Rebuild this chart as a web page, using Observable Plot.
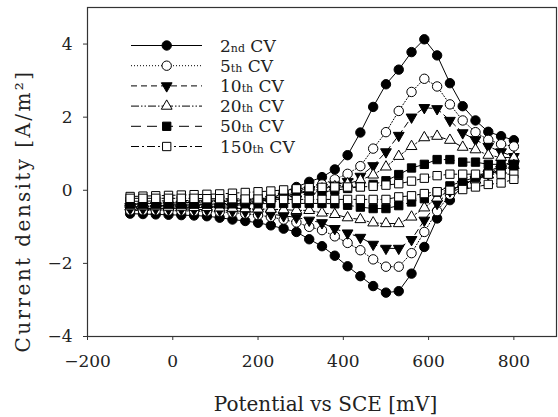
<!DOCTYPE html>
<html><head><meta charset="utf-8">
<script src="https://cdn.jsdelivr.net/npm/d3@7"></script>
<script src="https://cdn.jsdelivr.net/npm/@observablehq/plot@0.6"></script>
<style>
body{margin:0;background:#fff;}
#chart svg{font-family:"DejaVu Serif",serif;color:#222;}
</style></head><body><div id="chart"></div>
<script>
// Potential (mV vs SCE), sampled every 30 mV
const potential = [-100,-70,-40,-10,20,50,80,110,140,170,200,230,260,290,320,350,380,410,440,470,500,530,560,590,620,650,680,710,740,770,800];

// Forward (anodic) sweep current density, A/m², listed by ascending potential
const cv2Forward   = [-0.55,-0.53,-0.51,-0.50,-0.49,-0.48,-0.46,-0.44,-0.42,-0.39,-0.33,-0.24,-0.05,0.09,0.23,0.36,0.57,0.96,1.58,2.28,2.90,3.30,3.78,4.13,3.69,2.93,2.30,1.91,1.60,1.48,1.37];
const cv5Forward   = [-0.48,-0.46,-0.45,-0.44,-0.43,-0.42,-0.41,-0.40,-0.38,-0.35,-0.31,-0.25,-0.14,-0.03,0.06,0.16,0.30,0.45,0.66,1.14,1.59,2.17,2.69,3.05,2.84,2.35,1.91,1.59,1.38,1.26,1.20];
const cv10Forward  = [-0.45,-0.43,-0.42,-0.41,-0.40,-0.39,-0.38,-0.37,-0.35,-0.33,-0.30,-0.25,-0.17,-0.08,0.00,0.07,0.14,0.24,0.38,0.67,1.05,1.50,2.00,2.26,2.23,1.91,1.57,1.38,1.20,1.05,0.92];
const cv20Forward  = [-0.38,-0.37,-0.36,-0.35,-0.34,-0.33,-0.32,-0.31,-0.30,-0.28,-0.26,-0.22,-0.17,-0.10,-0.03,0.04,0.10,0.18,0.28,0.42,0.64,0.93,1.20,1.44,1.48,1.37,1.18,1.11,0.96,0.90,0.89];
const cv50Forward  = [-0.30,-0.30,-0.29,-0.29,-0.28,-0.28,-0.27,-0.27,-0.26,-0.25,-0.23,-0.21,-0.20,-0.15,-0.10,-0.05,0.00,0.05,0.10,0.16,0.26,0.43,0.61,0.71,0.84,0.84,0.77,0.77,0.71,0.71,0.71];
const cv150Forward = [-0.17,-0.16,-0.15,-0.14,-0.13,-0.12,-0.11,-0.10,-0.08,-0.06,-0.04,-0.02,0.01,0.04,0.07,0.08,0.09,0.09,0.09,0.11,0.14,0.18,0.25,0.33,0.40,0.44,0.44,0.44,0.44,0.44,0.44];

// Reverse (cathodic) sweep current density, A/m², listed by ascending potential
const cv2Reverse   = [-0.64,-0.65,-0.66,-0.67,-0.68,-0.69,-0.71,-0.75,-0.80,-0.84,-0.89,-0.96,-1.05,-1.14,-1.34,-1.53,-1.79,-2.08,-2.35,-2.62,-2.80,-2.76,-2.28,-1.55,-0.77,-0.27,0.12,0.35,0.52,0.66,0.80];
const cv5Reverse   = [-0.55,-0.55,-0.55,-0.56,-0.56,-0.57,-0.58,-0.59,-0.61,-0.64,-0.68,-0.73,-0.80,-0.88,-1.00,-1.09,-1.26,-1.44,-1.64,-1.89,-2.09,-2.09,-1.72,-1.14,-0.57,-0.12,0.13,0.32,0.48,0.62,0.76];
const cv10Reverse  = [-0.50,-0.50,-0.50,-0.51,-0.51,-0.52,-0.53,-0.54,-0.56,-0.58,-0.61,-0.65,-0.70,-0.74,-0.82,-0.89,-1.05,-1.17,-1.29,-1.48,-1.59,-1.59,-1.35,-0.82,-0.36,-0.02,0.16,0.30,0.44,0.57,0.70];
const cv20Reverse  = [-0.45,-0.45,-0.45,-0.46,-0.46,-0.47,-0.47,-0.48,-0.49,-0.50,-0.51,-0.52,-0.53,-0.55,-0.55,-0.62,-0.66,-0.75,-0.80,-0.89,-0.91,-0.91,-0.73,-0.48,-0.21,0.00,0.16,0.28,0.42,0.55,0.68];
const cv50Reverse  = [-0.38,-0.38,-0.38,-0.38,-0.38,-0.38,-0.38,-0.37,-0.37,-0.37,-0.37,-0.36,-0.36,-0.36,-0.36,-0.36,-0.37,-0.41,-0.46,-0.50,-0.50,-0.42,-0.32,-0.23,-0.05,0.12,0.25,0.35,0.45,0.55,0.66];
const cv150Reverse = [-0.22,-0.22,-0.22,-0.22,-0.22,-0.22,-0.23,-0.23,-0.23,-0.24,-0.24,-0.25,-0.25,-0.25,-0.25,-0.25,-0.25,-0.25,-0.25,-0.25,-0.25,-0.18,-0.15,-0.09,-0.04,0.00,0.02,0.09,0.16,0.20,0.30];

const seriesNumber = ["2", "5", "10", "20", "50", "150"];
const seriesSuffix = ["nd", "th", "th", "th", "th", "th"];
const forwardSweeps = [cv2Forward, cv5Forward, cv10Forward, cv20Forward, cv50Forward, cv150Forward];
const reverseSweeps = [cv2Reverse, cv5Reverse, cv10Reverse, cv20Reverse, cv50Reverse, cv150Reverse];
const xTicks = [-200, 0, 200, 400, 600, 800];
const yTicks = [-4, -2, 0, 2, 4];
const xLabel = "Potential vs SCE [mV]";
const yLabel = "Current density [A/m²]";

const sqrt3 = Math.sqrt(3);
const triangleDown = {draw(context, size) {
  const y = Math.sqrt(size / (sqrt3 * 3));
  context.moveTo(0, y * 2);
  context.lineTo(-sqrt3 * y, -y);
  context.lineTo(sqrt3 * y, -y);
  context.closePath();
}};
const triangleUp = d3.symbolTriangle;

const styles = [
  {symbol: "circle", d3sym: d3.symbolCircle, fill: "black", dash: null, r: 4.7},
  {symbol: "circle", d3sym: d3.symbolCircle, fill: "white", dash: "1,2", r: 4.7},
  {symbol: triangleDown, d3sym: triangleDown, fill: "black", dash: "6,4", r: 4.0},
  {symbol: "triangle", d3sym: triangleUp, fill: "white", dash: "8,2,1.5,2,1.5,2", r: 4.0},
  {symbol: "square", d3sym: d3.symbolSquare, fill: "black", dash: "10,6", r: 4.7},
  {symbol: "square", d3sym: d3.symbolSquare, fill: "white", dash: "8,3,2,3", r: 4.7}
];

const marks = [];
seriesNumber.forEach((name, i) => {
  const fwd = potential.map((p, j) => ({p, j: forwardSweeps[i][j]}));
  const rev = potential.map((p, j) => ({p, j: reverseSweeps[i][j]})).reverse();
  const rows = fwd.concat(rev);
  const st = styles[i];
  marks.push(Plot.line(rows, {x: "p", y: "j", stroke: "black", strokeWidth: 1, strokeDasharray: st.dash}));
  marks.push(Plot.dot(rows, {x: "p", y: "j", symbol: st.symbol, r: st.r, fill: st.fill, stroke: "black", strokeWidth: 1}));
});

const W = 558, H = 417, mL = 87, mR = 2, mT = 7, mB = 81;
const plot = Plot.plot({
  width: W, height: H,
  marginLeft: mL, marginRight: mR, marginTop: mT, marginBottom: mB,
  style: {fontFamily: "DejaVu Serif, serif", fontSize: "17px", background: "white", color: "#222"},
  x: {domain: [-200, 900]},
  y: {domain: [-4, 5]},
  marks: [
    Plot.axisX({ticks: xTicks, tickSize: 4, tickPadding: 14, label: null, fontSize: 17, stroke: "#333"}),
    Plot.axisY({ticks: yTicks, tickSize: 4, tickPadding: 11, label: null, fontSize: 17, stroke: "#333"}),
    ...marks,
    Plot.frame({stroke: "#333", strokeWidth: 1.2})
  ]
});
document.getElementById("chart").appendChild(plot);

const svg = d3.select(plot);
svg.append("text")
  .attr("x", (mL + W - mR) / 2 + 4).attr("y", 411)
  .attr("text-anchor", "middle").attr("font-size", 20).attr("fill", "#222")
  .text(xLabel);
svg.append("text")
  .attr("transform", "translate(30,211) rotate(-90)")
  .attr("text-anchor", "middle").attr("font-size", 20).attr("fill", "#222")
  .attr("letter-spacing", 2.4)
  .text(yLabel);

// Legend
const lg = svg.append("g").attr("text-anchor", "start");
seriesNumber.forEach((num, i) => {
  const st = styles[i];
  const cy = 45.5 + i * 20.2;
  lg.append("line").attr("x1", 131).attr("x2", 202).attr("y1", cy).attr("y2", cy)
    .attr("stroke", "black").attr("stroke-width", 1)
    .attr("stroke-dasharray", st.dash);
  lg.append("path")
    .attr("transform", `translate(166.7,${cy})`)
    .attr("d", d3.symbol(st.d3sym, st.r * st.r * Math.PI)())
    .attr("fill", st.fill).attr("stroke", "black").attr("stroke-width", 1);
  const t = lg.append("text").attr("x", 220).attr("y", cy + 6)
    .attr("text-anchor", "start").attr("font-size", 17).attr("fill", "#222");
  t.append("tspan").text(num);
  t.append("tspan").attr("font-size", 11).text(seriesSuffix[i]);
  t.append("tspan").text(" CV");
});
</script>
</body></html>
